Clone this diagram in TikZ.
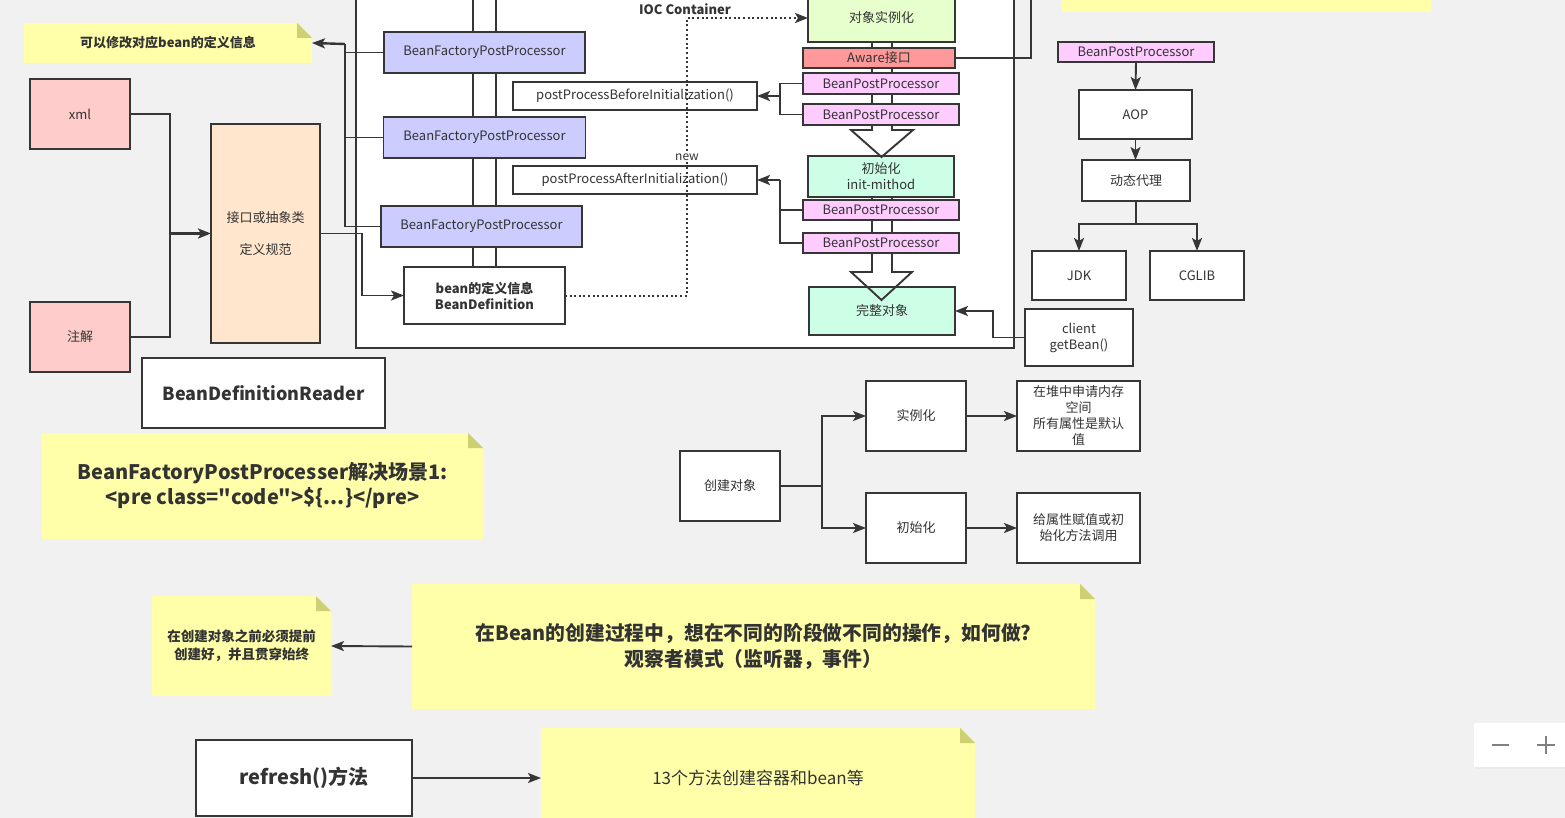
\documentclass[tikz,border=0pt]{standalone}
\usepackage{fontspec}
\setmainfont{Noto Sans CJK SC}
\newfontfamily\qf{Noto Sans CJK SC}
\usetikzlibrary{arrows.meta}
\definecolor{bgc}{HTML}{F1F1F1}
\definecolor{linec}{HTML}{363636}
\definecolor{txtc}{HTML}{333333}
\definecolor{notey}{HTML}{FFFFAA}
\definecolor{foldc}{HTML}{CFCF74}
\definecolor{bfppc}{HTML}{CCCCFF}
\definecolor{bppc}{HTML}{FFCCFF}
\definecolor{awarec}{HTML}{FF9999}
\definecolor{instc}{HTML}{E6FFCC}
\definecolor{greenc}{HTML}{CCFFE6}
\definecolor{ifacec}{HTML}{FFE6CC}
\definecolor{pinkc}{HTML}{FFCCCC}
\newcommand\fsz[2]{\fontsize{#1}{#2}\selectfont}
\newcommand\notefold[1]{%
  \fill[bgc] ([xshift=-15pt]#1.north east) -- (#1.north east) -- ([yshift=-15pt]#1.north east) -- cycle;
  \fill[foldc] ([xshift=-15pt]#1.north east) -- ([yshift=-15pt]#1.north east) -- ([xshift=-15pt,yshift=-15pt]#1.north east) -- cycle;}
\begin{document}
\begin{tikzpicture}[x=1pt,y=-1pt,
  every node/.style={text=txtc},
  box/.style={draw=linec, line width=1.9pt, fill=white, inner sep=0pt, outer sep=0pt, align=center, font=\fsz{13}{16}},
  wh/.style n args={2}{minimum width=#1pt, minimum height=#2pt},
  notebox/.style={fill=notey, inner sep=0pt, outer sep=0pt, align=center},
  conn/.style={draw=linec, line width=1.9pt},
  arr/.style={draw=linec, line width=1.9pt, -{Stealth[length=13pt,width=10pt,inset=3pt]}},
  pipe/.style={draw=linec, line width=2.2pt},
  dotl/.style={draw=linec, line width=2pt, dash pattern=on 2pt off 2.6pt}
]
\fill[bgc] (0,0) rectangle (1565,818);
\useasboundingbox (0,0) rectangle (1565,818);

% top-right note (cut off)
\fill[notey] (1062,-5) rectangle (1431,12);

% IOC container
\draw[line width=1.9pt, draw=linec, fill=white] (356,-5) rectangle (1014,348);
\node[font=\bfseries\fsz{13}{15}] (ioc) at (685,9) {IOC Container};

% pipes
\draw[pipe] (473,-5) -- (473,268);
\draw[pipe] (496,-5) -- (496,268);
\draw[pipe] (872,40) -- (872,126);
\draw[pipe] (892,40) -- (892,126);
\draw[pipe] (872,195) -- (872,234);
\draw[pipe] (892,195) -- (892,234);

% left column
\node[box, fill=pinkc, wh={100}{70}] (xml) at (80,114) {xml};
\node[box, fill=pinkc, wh={100}{70}] (anno) at (80,337) {注解};
\node[box, fill=ifacec, wh={109}{219}] (iface) at (265.5,233.5) {接口或抽象类\\[16pt]定义规范};
\node[box, wh={243}{70}, font=\bfseries\fsz{18}{22}] (bdr) at (263.5,393) {BeanDefinitionReader};
\node[notebox, wh={288}{40}, font=\bfseries\fsz{13}{16}] (note1) at (168,43) {可以修改对应bean的定义信息};
\notefold{note1}

% BFPP
\node[box, fill=bfppc, wh={201}{41}] (bfpp1) at (484.5,52.5) {BeanFactoryPostProcessor};
\node[box, fill=bfppc, wh={202}{41}] (bfpp2) at (484.5,137.5) {BeanFactoryPostProcessor};
\node[box, fill=bfppc, wh={201}{41}] (bfpp3) at (481.5,226.5) {BeanFactoryPostProcessor};
\node[box, wh={161}{57}, font=\bfseries\fsz{13}{16}] (bd) at (484.5,295.5) {bean的定义信息\\BeanDefinition};

\node[box, wh={244}{28}] (ppb) at (635,96) {postProcessBeforeInitialization()};
\node[box, wh={244}{28}] (ppa) at (635,180) {postProcessAfterInitialization()};

% right column of IOC
\node[box, fill=instc, wh={147}{48}] (obj) at (881.5,18) {对象实例化};
\node[box, fill=awarec, wh={152}{20}] (aware) at (879,58) {Aware接口};
\node[box, fill=bppc, wh={156}{21}] (bpp1) at (881,83.5) {BeanPostProcessor};
\node[box, fill=bppc, wh={156}{21}] (bpp2) at (881,114.5) {BeanPostProcessor};
\node[box, fill=greenc, wh={146}{41}] (init) at (881,176.5) {初始化\\init-mithod};
\node[box, fill=bppc, wh={156}{20}] (bpp3) at (881,210) {BeanPostProcessor};
\node[box, fill=bppc, wh={156}{20}] (bpp4) at (881,243) {BeanPostProcessor};
\node[box, fill=greenc, wh={146}{48}] (full) at (882,311) {完整对象};

% block arrows
\draw[conn, line join=miter] (872,125) -- (872,130) -- (851,130) -- (881.5,157) -- (913,130) -- (892,130) -- (892,125);
\draw[conn, line join=miter] (872,253) -- (872,272) -- (851,272) -- (881.5,300) -- (912,272) -- (892,272) -- (892,253);

% right side
\node[box, wh={108}{57}] (client) at (1079,337.5) {client\\getBean()};
\node[box, fill=bppc, wh={156}{20}] (rbpp) at (1136,52) {BeanPostProcessor};
\node[box, wh={113}{49}] (aop) at (1135.5,114.5) {AOP};
\node[box, wh={108}{41}] (proxy) at (1136,180.5) {动态代理};
\node[box, wh={94}{49}] (jdk) at (1079,275.5) {JDK};
\node[box, wh={94}{49}] (cglib) at (1197,275.5) {CGLIB};

% middle tree
\node[box, wh={100}{70}] (create) at (730,486) {创建对象};
\node[box, wh={100}{70}] (inst) at (916,416) {实例化};
\node[box, wh={100}{70}] (initz) at (916,528) {初始化};
\node[box, wh={123}{70}] (heap) at (1078.5,416) {在堆中申请内存\\空间\\所有属性是默认\\值};
\node[box, wh={123}{70}] (assign) at (1078.5,528) {给属性赋值或初\\始化方法调用};

% notes bottom
\node[notebox, wh={441}{106}, font=\bfseries\fsz{20}{25}] (note2) at (262.5,486) {BeanFactoryPostProcesser解决场景1:\\{\qf <pre class="code">\$\{...\}</pre>}};
\notefold{note2}
\node[notebox, wh={179}{100}, font=\bfseries\fsz{13.5}{18}] (note3) at (241.5,646) {在创建对象之前必须提前\\创建好，并且贯穿始终};
\notefold{note3}
\node[notebox, wh={683}{125}, font=\bfseries\fsz{19.8}{26}] (note4) at (753.5,646.5) {在Bean的创建过程中，想在不同的阶段做不同的操作，如何做?\\观察者模式（监听器，事件）};
\notefold{note4}
\node[box, wh={216}{76}, font=\bfseries\fsz{20}{24}] (refresh) at (304,778) {refresh()方法};
\node[notebox, wh={434}{100}, font=\fsz{17}{20}] (note5) at (758,778) {13个方法创建容器和bean等};
\notefold{note5}

% connectors
\coordinate (j1) at (170,233.5);
\draw[conn] (xml.east) -| (j1);
\draw[conn] (anno.east) -| (j1);
\draw[arr, line width=2.4pt] (j1) -- (iface.west);

\coordinate (j2) at (362,233.5);
\draw[conn] (iface.east) -- (j2);
\draw[arr] (j2) |- (bd.west);

\coordinate (j3) at (345,44);
\draw[conn] (bfpp1.west) -| (j3);
\draw[conn] (bfpp2.west) -| (j3);
\draw[conn] (bfpp3.west) -| (j3);
\draw[arr, line width=2.4pt] (j3) -- (note1.east);

\coordinate (j4) at (687,18);
\draw[dotl, -{Stealth[length=13pt,width=10pt,inset=3pt]}] (bd.east) -| (j4) -- (obj.west);
\node[fill=white, inner sep=1pt, font=\fsz{12}{14}] (newl) at (687,157) {new};

\coordinate (j5) at (780,96);
\draw[conn] (bpp1.west) -| (j5);
\draw[conn] (bpp2.west) -| (j5);
\draw[arr, line width=2.4pt] (j5) -- (ppb.east);
\coordinate (j6) at (780,180);
\draw[conn] (bpp3.west) -| (j6);
\draw[conn] (bpp4.west) -| (j6);
\draw[arr, line width=2.4pt] (j6) -- (ppa.east);

\coordinate (j7) at (1031,-5);
\draw[conn] (aware.east) -| (j7);

\coordinate (j8) at (993,311);
\draw[arr] (client.west) -| (j8) -- (full.east);

\draw[arr] (rbpp.south) -- (aop.north);
\draw[arr] (aop.south) -- (aop.south |- proxy.north);
\coordinate (j9) at (1136,224);
\draw[conn] (proxy.south) -- (j9);
\draw[arr] (j9) -| (jdk.north);
\draw[arr] (j9) -| (cglib.north);

\coordinate (j10) at (822,486);
\draw[conn] (create.east) -- (j10);
\draw[arr] (j10) |- (inst.west);
\draw[arr] (j10) |- (initz.west);
\draw[arr] (inst.east) -- (heap.west);
\draw[arr] (initz.east) -- (assign.west);

\draw[arr] (note4.west) -- (note3.east);
\draw[arr] (refresh.east) -- (note5.west);

% zoom widget
\fill[black!8] (1475,725) rectangle (1567,769);
\fill[white] (1474,723) rectangle (1566,767);
\draw[gray, line width=1.4pt] (1492,745) -- (1509,745);
\draw[gray, line width=1.4pt] (1537,745) -- (1555,745);
\draw[gray, line width=1.4pt] (1546,736) -- (1546,754);
\end{tikzpicture}
\end{document}
